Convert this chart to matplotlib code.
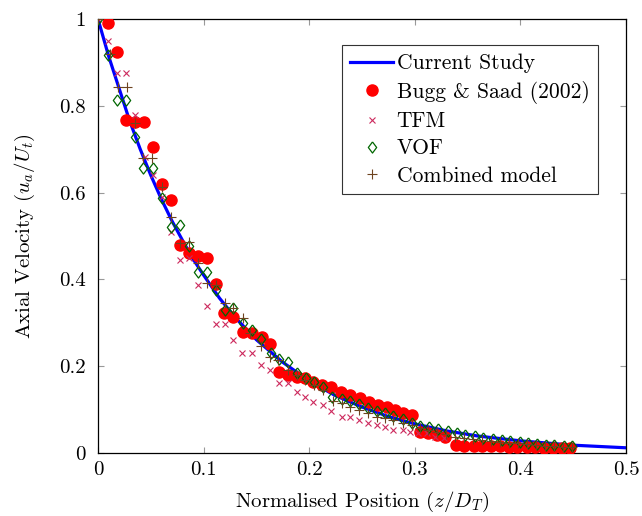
import matplotlib
matplotlib.use("Agg")
import matplotlib.pyplot as plt
from matplotlib.ticker import FuncFormatter, FixedLocator

plt.rcParams['font.family'] = ['cmr10', 'DejaVu Serif']
plt.rcParams['mathtext.fontset'] = 'cm'
plt.rcParams['axes.formatter.use_mathtext'] = True

# ---- data ----
line_x = [0, 0.01, 0.02, 0.03, 0.04, 0.05, 0.06, 0.07, 0.08, 0.09, 0.1, 0.115, 0.13,
          0.15, 0.175, 0.2, 0.225, 0.25, 0.275, 0.3, 0.33, 0.36, 0.4, 0.45, 0.5]
line_y = [1.0, 0.915, 0.84, 0.765, 0.70, 0.64, 0.585, 0.535, 0.49, 0.447, 0.41, 0.357,
          0.312, 0.261, 0.209, 0.166, 0.132, 0.106, 0.084, 0.067, 0.051, 0.039,
          0.028, 0.018, 0.012]

bugg_x = [0.0095, 0.018, 0.0265, 0.035, 0.0436, 0.052, 0.0606, 0.069, 0.0777, 0.086,
          0.0947, 0.103, 0.112, 0.119, 0.128, 0.137, 0.146, 0.155, 0.163, 0.171,
          0.180, 0.188, 0.196, 0.204, 0.212, 0.2206, 0.230, 0.2386, 0.248, 0.2566,
          0.265, 0.2737, 0.281, 0.289, 0.297, 0.305, 0.3125, 0.321, 0.329, 0.339,
          0.347, 0.356, 0.364, 0.372, 0.381, 0.389, 0.397, 0.406, 0.414, 0.422,
          0.431, 0.439, 0.447]
bugg_y = [0.991, 0.924, 0.767, 0.763, 0.763, 0.705, 0.62, 0.583, 0.479, 0.461,
          0.454, 0.449, 0.389, 0.322, 0.313, 0.279, 0.276, 0.267, 0.251, 0.186,
          0.180, 0.175, 0.173, 0.164, 0.157, 0.152, 0.141, 0.134, 0.127, 0.118,
          0.111, 0.106, 0.099, 0.092, 0.0876, 0.048, 0.046, 0.041, 0.037, 0.018,
          0.017, 0.016, 0.016, 0.015, 0.015, 0.014, 0.014, 0.013, 0.013, 0.012,
          0.012, 0.011, 0.011]

tfm_x = [0, 0.0095, 0.018, 0.0265, 0.035, 0.0445, 0.052, 0.0606, 0.069, 0.0777,
         0.086, 0.0947, 0.103, 0.112, 0.120, 0.128, 0.136, 0.146, 0.154, 0.163,
         0.171, 0.180, 0.188, 0.196, 0.204, 0.213, 0.221, 0.231, 0.2386, 0.247,
         0.256, 0.264, 0.272, 0.279, 0.289, 0.295, 0.303, 0.3115, 0.319, 0.328]
tfm_y = [1.0, 0.95, 0.876, 0.876, 0.779, 0.682, 0.64, 0.589, 0.509, 0.445,
         0.449, 0.387, 0.339, 0.297, 0.297, 0.26, 0.23, 0.23, 0.203, 0.191,
         0.161, 0.161, 0.141, 0.129, 0.117, 0.111, 0.096, 0.083, 0.083, 0.076,
         0.069, 0.065, 0.06, 0.053, 0.053, 0.048, 0.046, 0.046, 0.037, 0.035]

vof_x = [0, 0.0095, 0.018, 0.0265, 0.035, 0.043, 0.052, 0.0606, 0.069, 0.0777,
         0.086, 0.0947, 0.103, 0.112, 0.12, 0.128, 0.137, 0.146, 0.154, 0.164,
         0.171, 0.18, 0.188, 0.197, 0.2045, 0.213, 0.2216, 0.231, 0.2386, 0.247,
         0.256, 0.264, 0.272, 0.279, 0.289, 0.297, 0.305, 0.3135, 0.322, 0.331,
         0.34, 0.348, 0.357, 0.365, 0.374, 0.3826, 0.39, 0.4, 0.407, 0.416,
         0.424, 0.432, 0.441, 0.449]
vof_y = [1.0, 0.917, 0.813, 0.813, 0.728, 0.657, 0.657, 0.588, 0.521, 0.525,
         0.477, 0.417, 0.417, 0.376, 0.33, 0.334, 0.3, 0.283, 0.263, 0.23,
         0.217, 0.21, 0.184, 0.173, 0.164, 0.152, 0.130, 0.124, 0.12, 0.112,
         0.104, 0.097, 0.092, 0.085, 0.078, 0.068, 0.063, 0.060, 0.056, 0.05,
         0.046, 0.042, 0.039, 0.035, 0.032, 0.029, 0.027, 0.025, 0.023, 0.021,
         0.019, 0.018, 0.017, 0.016]

comb_x = [0, 0.011, 0.019, 0.0275, 0.035, 0.043, 0.051, 0.0606, 0.069, 0.0777,
          0.086, 0.0947, 0.103, 0.112, 0.12, 0.128, 0.137, 0.144, 0.154, 0.163,
          0.17, 0.18, 0.188, 0.196, 0.2045, 0.213, 0.2225, 0.231, 0.2386, 0.247,
          0.256, 0.264, 0.272, 0.279, 0.289, 0.297, 0.305, 0.3125, 0.321, 0.33,
          0.338, 0.347, 0.355, 0.364, 0.372, 0.381, 0.389, 0.398, 0.406, 0.415,
          0.423, 0.432, 0.44, 0.449]
comb_y = [1.0, 0.92, 0.843, 0.843, 0.76, 0.68, 0.68, 0.613, 0.544, 0.484,
          0.486, 0.438, 0.392, 0.387, 0.346, 0.334, 0.311, 0.276, 0.246, 0.221,
          0.214, 0.191, 0.18, 0.168, 0.157, 0.145, 0.12, 0.115, 0.106, 0.099,
          0.092, 0.083, 0.081, 0.076, 0.069, 0.065, 0.058, 0.053, 0.048, 0.043,
          0.037, 0.035, 0.032, 0.03, 0.028, 0.025, 0.023, 0.023, 0.021, 0.018,
          0.016, 0.015, 0.014, 0.013]

x_ticks = [0, 0.1, 0.2, 0.3, 0.4, 0.5]
y_ticks = [0, 0.2, 0.4, 0.6, 0.8, 1.0]

# ---- figure ----
FS = 15
fig = plt.figure(figsize=(6.42, 5.16), dpi=100)
ax = fig.add_axes([98/642, 1 - 453/516, 528/642, 434/516])

diamond = [(0, 1), (0.75, 0), (0, -1), (-0.75, 0), (0, 1)]

ax.plot(line_x, line_y, color='#0000ff', lw=2.3, label='Current Study', zorder=2)
ax.plot(bugg_x, bugg_y, 'o', color='#ff0000', ms=8, mec='#ff0000',
        label='Bugg & Saad (2002)', zorder=3)
ax.plot(tfm_x, tfm_y, 'x', color='#cc2a5e', ms=5, mew=0.8, label='TFM', zorder=4)
ax.plot(vof_x, vof_y, linestyle='none', marker=diamond, color='#006600', mfc='none',
        ms=8, mew=0.9, label='VOF', zorder=5)
ax.plot(comb_x, comb_y, '+', color='#6e4420', ms=7.5, mew=0.8,
        label='Combined model', zorder=6)

ax.set_xlim(0, 0.5)
ax.set_ylim(0, 1)
ax.xaxis.set_major_locator(FixedLocator(x_ticks))
ax.yaxis.set_major_locator(FixedLocator(y_ticks))
fmt = FuncFormatter(lambda v, p: '%g' % v)
ax.xaxis.set_major_formatter(fmt)
ax.yaxis.set_major_formatter(fmt)
ax.tick_params(direction='in', length=4, width=0.8, color='#999999',
               top=True, right=True, labelsize=FS)
ax.tick_params(axis='x', pad=6)
ax.tick_params(axis='y', pad=9)
for s in ax.spines.values():
    s.set_linewidth(0.9)
    s.set_color('black')

ax.set_xlabel('Normalised Position ($z/D_T$)', fontsize=FS, labelpad=8)
ax.set_ylabel('Axial Velocity ($u_a/U_t$)', fontsize=FS, labelpad=16)

leg = ax.legend(loc='upper right', bbox_to_anchor=(0.947, 0.940), borderaxespad=0,
                fancybox=False, edgecolor='#333333', framealpha=1, fontsize=15.5,
                handlelength=2.0, labelspacing=0.36, borderpad=0.4, handletextpad=0.15,
                numpoints=1)
leg.get_frame().set_linewidth(0.8)

fig.savefig('out.png', dpi=100)
